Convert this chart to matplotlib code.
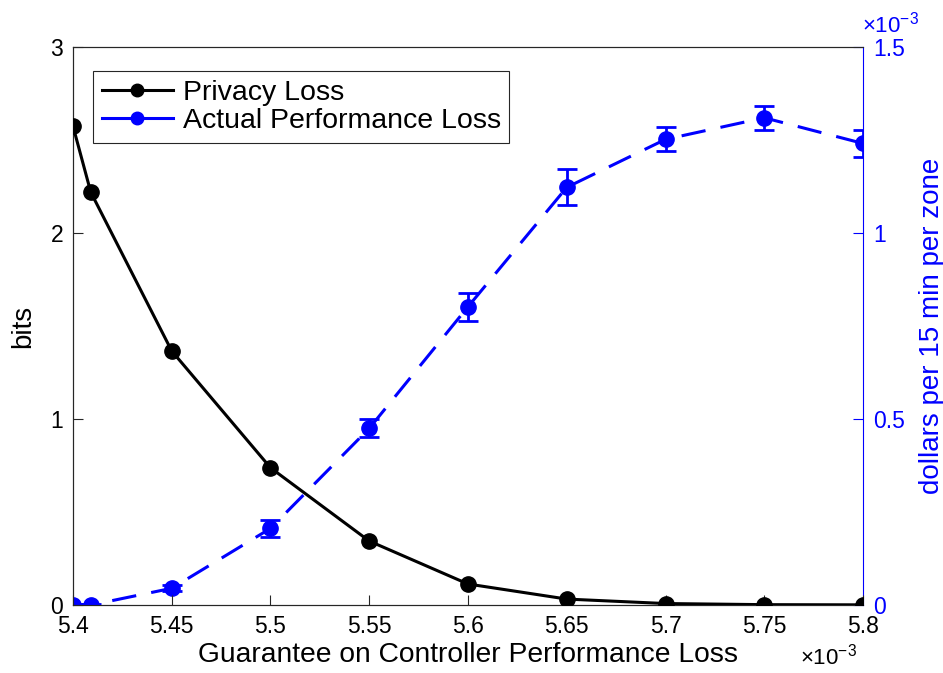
import matplotlib
matplotlib.use("Agg")
import matplotlib.pyplot as plt
from matplotlib.lines import Line2D

plt.rcParams['font.family'] = ['Liberation Sans', 'DejaVu Sans']
plt.rcParams['mathtext.fontset'] = 'custom'
plt.rcParams['mathtext.rm'] = 'Liberation Sans'

# x values in units of 1e-3
x = [5.4, 5.409, 5.45, 5.5, 5.55, 5.6, 5.65, 5.7, 5.75, 5.8]
privacy_loss = [2.575, 2.22, 1.366, 0.738, 0.344, 0.113, 0.032, 0.008, 0.002, 0.001]
# actual performance loss in units of 1e-3
perf_loss = [0.0, 0.0, 0.045, 0.206, 0.475, 0.802, 1.123, 1.252, 1.310, 1.241]
perf_err = [0.002, 0.002, 0.008, 0.022, 0.024, 0.038, 0.048, 0.032, 0.033, 0.036]

xticks = [5.4, 5.45, 5.5, 5.55, 5.6, 5.65, 5.7, 5.75, 5.8]
xticklabels = ['5.4', '5.45', '5.5', '5.55', '5.6', '5.65', '5.7', '5.75', '5.8']
yticks_left = [0, 1, 2, 3]
yticks_right = [0, 0.5, 1, 1.5]
yticklabels_right = ['0', '0.5', '1', '1.5']

gray = '#262626'
blue = (0, 0, 1)

fig = plt.figure(figsize=(9.43, 6.73), dpi=100)
ax = fig.add_axes([0.0774, 0.101, 0.8378, 0.829])
ax2 = ax.twinx()

l1, = ax.plot(x, privacy_loss, color='black', lw=2.2, marker='o', markersize=11,
              zorder=3)
ax2.errorbar(x, perf_loss, yerr=perf_err, color=blue, lw=2.2, marker='o',
             markersize=11, dashes=[8, 5], capsize=7, capthick=2, elinewidth=2,
             zorder=3)

ax.set_xlim(5.4, 5.8)
ax.set_ylim(0, 3)
ax2.set_ylim(0, 1.5)
ax.set_xticks(xticks)
ax.set_xticklabels(xticklabels)
ax.set_yticks(yticks_left)
ax2.set_yticks(yticks_right)
ax2.set_yticklabels(yticklabels_right)

ax.tick_params(axis='both', direction='in', length=7, width=0.8, labelsize=16.5,
               colors=gray, labelcolor='black')
ax.tick_params(axis='x', pad=7)
ax.tick_params(axis='y', pad=7)
ax2.tick_params(axis='y', direction='in', length=7, width=0.8, labelsize=16.5,
                colors=blue, labelcolor=blue, pad=7)
for s in ['left', 'bottom', 'top']:
    ax.spines[s].set_color(gray)
    ax2.spines[s].set_color(gray)
ax2.spines['right'].set_color(blue)
ax.spines['right'].set_visible(False)

ax.set_xlabel('Guarantee on Controller Performance Loss', fontsize=20.3, labelpad=3)
ax.set_ylabel('bits', fontsize=20, labelpad=10)
ax2.set_ylabel('dollars per 15 min per zone', fontsize=20, color=blue, labelpad=10)

fig.text(0.848, 0.012, r'$\times\mathregular{10^{-3}}$', fontsize=16, color='black')
fig.text(0.914, 0.952, r'$\times\mathregular{10^{-3}}$', fontsize=16, color=blue)

h1 = Line2D([], [], color='black', lw=2.2, marker='o', markersize=9)
h2 = Line2D([], [], color=blue, lw=2.2, marker='o', markersize=9)
leg = ax.legend([h1, h2], ['Privacy Loss', 'Actual Performance Loss'],
                loc='upper left', bbox_to_anchor=(0.0253, 0.9565), fontsize=20.5,
                frameon=True, fancybox=False, edgecolor=gray, framealpha=1,
                handlelength=2.5, handletextpad=0.35, borderpad=0.3, labelspacing=0.08,
                borderaxespad=0)
leg.get_frame().set_linewidth(0.8)
ax2.set_zorder(1)
ax.set_zorder(2)
ax.patch.set_visible(False)

fig.savefig('out.png', dpi=100)
